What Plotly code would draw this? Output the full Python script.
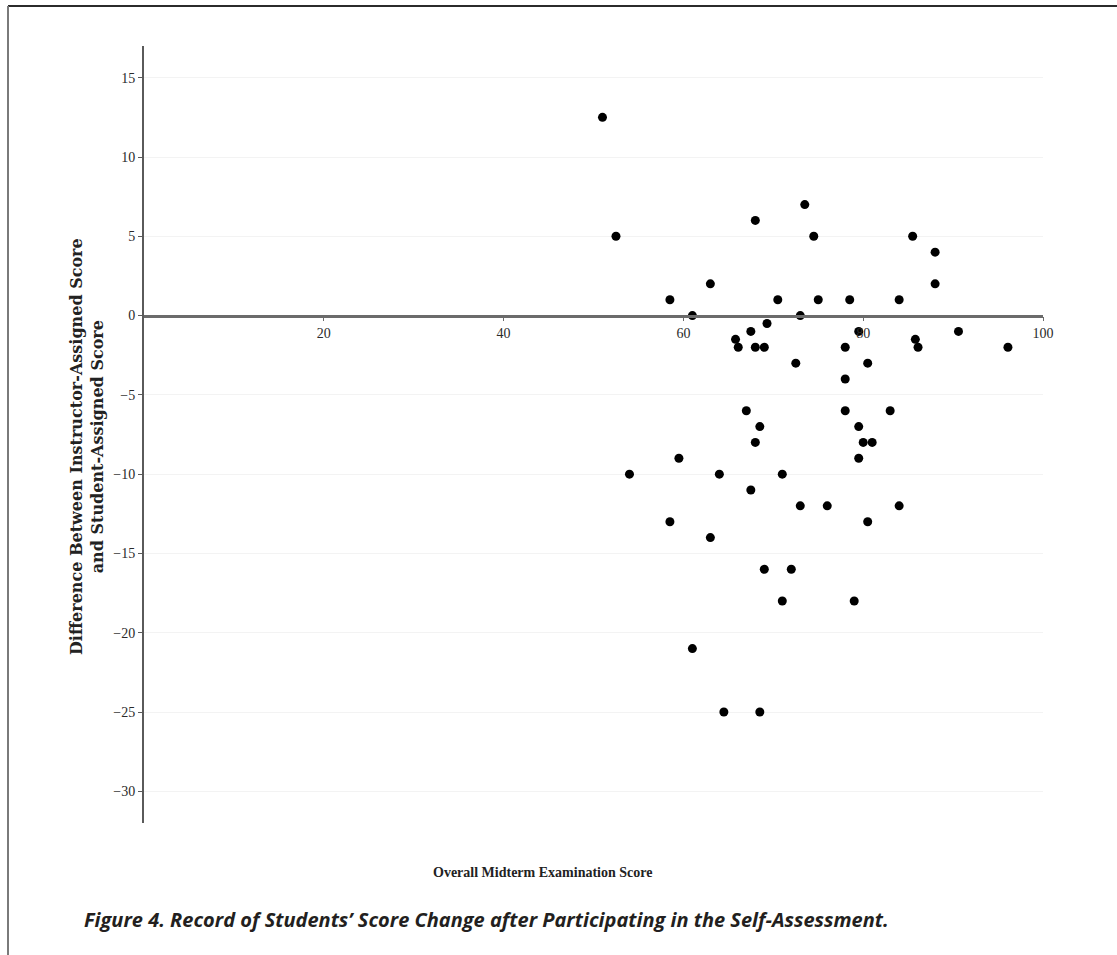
import plotly.graph_objects as go

# Data
exam_score = [51.0, 52.5, 58.5, 63.0, 61.0, 54.0, 59.5, 58.5, 63.0, 61.0,
              64.0, 64.5, 65.8, 66.1, 67.0, 67.5, 67.5, 68.0, 68.0, 68.0,
              68.5, 69.0, 69.3, 69.0, 68.5, 70.5, 71.0, 71.0, 72.0, 72.5,
              73.0, 73.0, 73.5, 74.5, 75.0, 76.0, 78.0, 78.0, 78.0, 78.5,
              79.0, 79.5, 79.5, 79.5, 80.0, 80.5, 80.5, 81.0, 83.0, 84.0,
              84.0, 85.5, 85.8, 86.1, 88.0, 88.0, 90.6, 96.1]
score_diff = [12.5, 5, 1, 2, 0, -10, -9, -13, -14, -21,
              -10, -25, -1.5, -2, -6, -1, -11, -8, -2, 6,
              -7, -2, -0.5, -16, -25, 1, -10, -18, -16, -3,
              0, -12, 7, 5, 1, -12, -2, -4, -6, 1,
              -18, -9, -7, -1, -8, -3, -13, -8, -6, 1,
              -12, 5, -1.5, -2, 4, 2, -1, -2]

x_ticks = [20, 40, 60, 80, 100]
y_ticks = [15, 10, 5, 0, -5, -10, -15, -20, -25, -30]

x_range = [0, 100]
y_range = [-32, 17]

x_title = "Overall Midterm Examination Score"
y_title = "Difference Between Instructor-Assigned Score<br>and Student-Assigned Score"
caption = "Figure 4. Record of Students\u2019 Score Change after Participating in the Self-Assessment."

W, H = 1117, 955
ML, MR, MT, MB = 144, 74, 46, 132

fig = go.Figure()
fig.add_trace(go.Scatter(
    x=exam_score, y=score_diff, mode="markers",
    marker=dict(color="#000000", size=9),
    showlegend=False, hoverinfo="x+y",
))

serif = "Liberation Serif, DejaVu Serif, serif"
axis_pos = (0 - y_range[0]) / (y_range[1] - y_range[0])

fig.update_layout(
    width=W, height=H,
    margin=dict(l=ML, r=MR, t=MT, b=MB),
    paper_bgcolor="white", plot_bgcolor="white",
    xaxis=dict(
        range=x_range, tickvals=x_ticks, ticktext=[str(v) for v in x_ticks],
        anchor="free", position=axis_pos,
        showline=True, linecolor="#6b6b6b", linewidth=2.5,
        ticks="outside", ticklen=4, tickcolor="#6b6b6b",
        showgrid=False, zeroline=False,
        tickfont=dict(family=serif, size=14, color="#2a2a2a"),
    ),
    yaxis=dict(
        range=y_range, tickvals=y_ticks,
        showline=True, linecolor="#5a5a5a", linewidth=2,
        ticks="outside", ticklen=4, tickcolor="#5a5a5a",
        showgrid=True, gridcolor="#f3f3f3", gridwidth=1,
        zeroline=False,
        tickfont=dict(family=serif, size=14, color="#2a2a2a"),
    ),
    font=dict(family=serif, color="#222222"),
)

pw = W - ML - MR
ph = H - MT - MB

def px_x(p):
    return (p - ML) / pw

def px_y(p):
    return (H - MB - p) / ph

fig.add_annotation(
    text="<b>" + x_title + "</b>", xref="paper", yref="paper",
    x=px_x(542), y=px_y(872), showarrow=False,
    font=dict(family=serif, size=14, color="#222222"),
    xanchor="center", yanchor="middle",
)
fig.add_annotation(
    text="<b>" + y_title + "</b>", xref="paper", yref="paper",
    x=px_x(87), y=px_y(447), showarrow=False, textangle=-90,
    font=dict(family="DejaVu Serif, serif", size=16, color="#222222"),
    xanchor="center", yanchor="middle",
)
fig.add_annotation(
    text="<b><i>" + caption + "</i></b>", xref="paper", yref="paper",
    x=px_x(82), y=px_y(919), showarrow=False,
    font=dict(family="Open Sans, Noto Sans, sans-serif", size=20, color="#231f20"),
    xanchor="left", yanchor="middle",
)

# page frame (top and left rules)
fig.add_shape(type="line", xref="paper", yref="paper",
              x0=px_x(8), x1=px_x(W + 2), y0=px_y(6), y1=px_y(6),
              line=dict(color="#2b2b2b", width=2))
fig.add_shape(type="line", xref="paper", yref="paper",
              x0=px_x(8), x1=px_x(8), y0=px_y(6), y1=px_y(H + 2),
              line=dict(color="#7a7a7a", width=2))

fig.write_html("out.html")
